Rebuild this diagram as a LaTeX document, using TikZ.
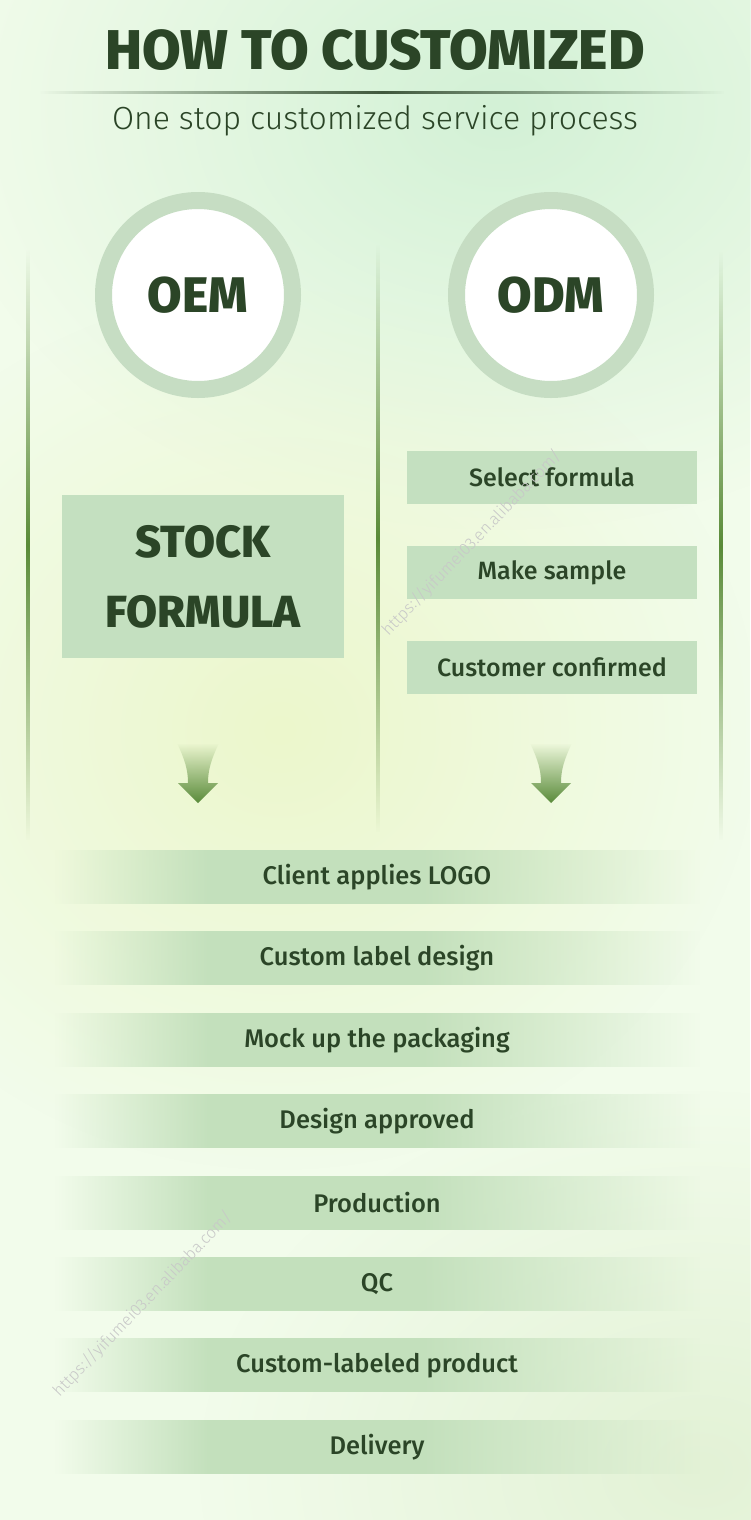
\documentclass[tikz,border=0pt]{standalone}
\usepackage{fontspec}
\setmainfont{Fira Sans}
\newfontfamily\heavyfont{Fira Sans ExtraBold}
\newfontfamily\medfont{Fira Sans Medium}
\newfontfamily\lightfont{Fira Sans Light}
\usetikzlibrary{fadings}
\definecolor{bgbase}{HTML}{F2FCEB}
\definecolor{bgmint}{HTML}{D3F1D6}
\definecolor{bgyellow}{HTML}{ECF7CC}
\definecolor{bgdeep}{HTML}{E3F2D6}
\definecolor{inkgreen}{HTML}{2B4527}
\definecolor{ringgreen}{HTML}{C6DDC3}
\definecolor{boxgreen}{HTML}{C4E0C0}
\definecolor{bargreen}{HTML}{C3E0BC}
\definecolor{linegreen}{HTML}{5A8B38}
\definecolor{arrowgreen}{HTML}{5A8B3A}
\definecolor{markgray}{HTML}{C8C8C8}
\tikzfading[name=fadevmid, top color=transparent!100, bottom color=transparent!100, middle color=transparent!0]
\tikzfading[name=fadehmid, left color=transparent!100, right color=transparent!100, middle color=transparent!0]
\tikzfading[name=fadein, left color=transparent!100, right color=transparent!0]
\tikzfading[name=fadeout, left color=transparent!0, right color=transparent!100]
\tikzfading[name=fadedown, top color=transparent!100, bottom color=transparent!0]
\tikzfading[name=softblob, inner color=transparent!0, outer color=transparent!100]
\begin{document}
\begin{tikzpicture}[x=1pt,y=-1pt,line join=bevel,
  titletext/.style={text=inkgreen,inner sep=0pt,font=\heavyfont\fontsize{56}{60}\selectfont},
  subtext/.style={text=inkgreen,inner sep=0pt,font=\lightfont\fontsize{32}{36}\selectfont},
  ringnode/.style={circle,fill=white,draw=ringgreen,line width=17pt,minimum size=189pt,inner sep=0pt,
    text=inkgreen,font=\heavyfont\fontsize{50}{54}\selectfont},
  stockbox/.style={fill=boxgreen,minimum width=282pt,minimum height=163pt,inner sep=0pt,align=center,
    text=inkgreen,font=\heavyfont\fontsize{45}{70}\selectfont},
  odmbox/.style={fill=boxgreen,minimum width=290pt,minimum height=53pt,inner sep=0pt,
    text=inkgreen,font=\medfont\fontsize{25}{28}\selectfont},
  bartext/.style={text=inkgreen,inner sep=0pt,font=\medfont\fontsize{25.5}{28}\selectfont},
  watermark/.style={text=markgray,inner sep=0pt,rotate=46,font=\lightfont\fontsize{16.5}{18}\selectfont}]
\useasboundingbox (0,0) rectangle (750,1520);
%% background
\fill[bgbase] (0,0) rectangle (750,1520);
\fill[bgmint,path fading=softblob] (500,110) ellipse (560 and 420);
\fill[bgyellow,path fading=softblob] (280,730) ellipse (480 and 440);
\fill[bgdeep,path fading=softblob] (700,1470) ellipse (500 and 380);
%% heading
\node[titletext] (title) at (375,50) {HOW TO CUSTOMIZED};
\fill[inkgreen!90!white,path fading=fadehmid] (40,90.5) rectangle (725,93.5);
\node[subtext] (sub) at (375,121) {One stop customized service process};
%% columns
\fill[linegreen,path fading=fadevmid] (26,250) rectangle (30,840);
\fill[linegreen,path fading=fadevmid] (376,245) rectangle (380,832);
\fill[linegreen,path fading=fadevmid] (719,252) rectangle (723,840);
\node[ringnode] (oem) at (198,295) {OEM};
\node[ringnode] (odm) at (551,295) {ODM};
\node[stockbox] (stock) at (203,576.5) {STOCK\\FORMULA};
\node[odmbox] (select) at (552,477) {Select formula};
\node[odmbox] (sample) at (552,572.5) {Make sample};
\node[odmbox] (confirm) at (552,667.5) {Customer confirmed};
\foreach \x in {198,551}
  \fill[arrowgreen,path fading=fadedown]
    (\x-21,743) .. controls (\x-13,760) and (\x-10,770) .. (\x-10,783) -- (\x-20,783) -- (\x,803)
    -- (\x+20,783) -- (\x+10,783) .. controls (\x+10,770) and (\x+13,760) .. (\x+21,743) -- cycle;
%% common steps
\foreach \txt [count=\i] in {Client applies LOGO,Custom label design,Mock up the packaging,Design approved,
    Production,QC,Custom-labeled product,Delivery}{
  \pgfmathsetmacro{\yy}{877+(\i-1)*81.4}
  \fill[bargreen,path fading=fadein] (55,\yy-27) rectangle (210,\yy+27);
  \fill[bargreen] (210,\yy-27) rectangle (420,\yy+27);
  \fill[bargreen,path fading=fadeout] (420,\yy-27) rectangle (700,\yy+27);
  \node[bartext] (bar\i) at (377,\yy) {\txt};
}
%% marks
\node[watermark] (wm1) at (472,543) {https://yifumei03.en.alibaba.com/};
\node[watermark] (wm2) at (143,1304) {https://yifumei03.en.alibaba.com/};
%
\end{tikzpicture}
\end{document}
